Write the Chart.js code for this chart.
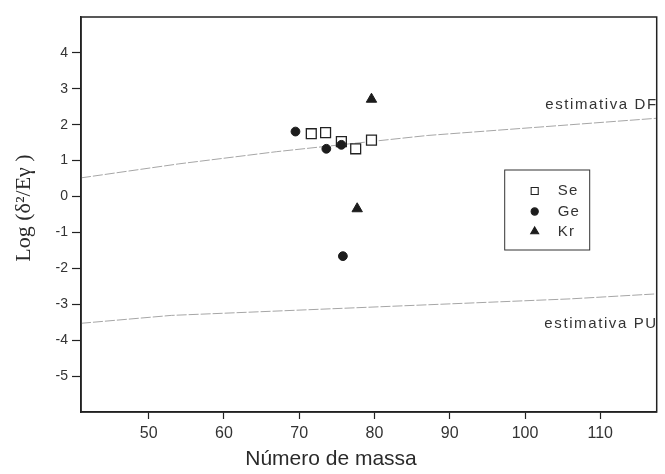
<!DOCTYPE html>
<html>
<head>
<meta charset="utf-8">
<script src="https://cdn.jsdelivr.net/npm/chart.js@4"></script>
<style>
  html, body { margin: 0; padding: 0; background: #fff; }
</style>
</head>
<body>
<canvas id="chart" width="665" height="474"></canvas>
<script>
// Values (mass number, log value)
const seMass = [71.6, 73.5, 75.6, 77.5, 79.6];
const seLog = [1.75, 1.78, 1.53, 1.33, 1.57];
const geMass = [69.5, 73.6, 75.6, 75.8];
const geLog = [1.81, 1.33, 1.44, -1.66];
const krMass = [77.7, 79.6];
const krLog = [-0.34, 2.71];

// Points
const dfMass = [41, 54, 67, 87, 117.5];
const dfLog = [0.52, 0.91, 1.25, 1.70, 2.18];
const puMass = [41, 53, 106, 117.5];
const puLog = [-3.53, -3.31, -2.85, -2.71];

const xTicks = [50, 60, 70, 80, 90, 100, 110];
const yTicks = [-5, -4, -3, -2, -1, 0, 1, 2, 3, 4];

const SANS = '"Liberation Sans", Arial, Helvetica, sans-serif';
const SERIF = '"Liberation Serif", "Times New Roman", serif';

function pts(xs, ys) {
  return xs.map((x, i) => ({ x: x, y: ys[i] }));
}

// Frame, line labels, inset legend and axis titles
const decor = {
  id: "decor",
  afterDraw(chart) {
    const ctx = chart.ctx;
    const a = chart.chartArea;
    const y = chart.scales.y;
    ctx.save();

    // box around the plot
    ctx.strokeStyle = "#222";
    ctx.lineWidth = 1.5;
    ctx.strokeRect(a.left, a.top, a.right - a.left, a.bottom - a.top);

    // labels of the estimate lines
    ctx.fillStyle = "#333";
    ctx.font = "15px " + SANS;
    ctx.letterSpacing = "1.6px";
    ctx.textAlign = "right";
    ctx.textBaseline = "middle";
    ctx.fillText("estimativa DF", a.right + 1, y.getPixelForValue(2.54));
    ctx.fillText("estimativa PU", a.right + 1, y.getPixelForValue(-3.54));

    // legend box
    const bx = a.right - 152;
    const by = a.top + 153;
    ctx.strokeStyle = "#333";
    ctx.lineWidth = 1;
    ctx.strokeRect(bx, by, 85, 80);
    const rows = [21, 41.5, 61.5];
    const sizes = [5, 3.6, 4.6];
    ctx.font = "15px " + SANS;
    ctx.letterSpacing = "1.2px";
    ctx.textAlign = "left";
    chart.data.datasets.filter((d) => d.inLegend).forEach((d, i) => {
      ctx.fillStyle = d.backgroundColor;
      ctx.strokeStyle = d.borderColor;
      ctx.lineWidth = 1.1;
      Chart.helpers.drawPoint(ctx, {
        pointStyle: d.pointStyle,
        radius: sizes[i],
        rotation: 0,
        borderWidth: 1.1,
      }, bx + 30, by + rows[i]);
      ctx.fillStyle = "#333";
      ctx.fillText(d.label, bx + 53, by + rows[i]);
    });

    // x title (sits left of centre in the figure)
    ctx.letterSpacing = "0px";
    ctx.fillStyle = "#2a2a2a";
    ctx.font = "21px " + SANS;
    ctx.textAlign = "center";
    ctx.fillText("Número de massa", a.left + 250, 459);

    // y title
    ctx.translate(24, 208);
    ctx.rotate(-Math.PI / 2);
    ctx.font = "22px " + SERIF;
    ctx.fillText("Log (δ²/Eγ )", 0, 0);
    ctx.restore();
  },
};

new Chart(document.getElementById("chart"), {
  type: "scatter",
  data: {
    datasets: [
      {
        label: "Se",
        inLegend: true,
        data: pts(seMass, seLog),
        pointStyle: "rect",
        pointRadius: 7,
        backgroundColor: "#fff",
        borderColor: "#222",
        borderWidth: 1.3,
        order: 2,
      },
      {
        label: "Ge",
        inLegend: true,
        data: pts(geMass, geLog),
        pointStyle: "circle",
        pointRadius: 4.4,
        backgroundColor: "#1c1c1c",
        borderColor: "#1c1c1c",
        borderWidth: 1,
        order: 1,
      },
      {
        label: "Kr",
        inLegend: true,
        data: pts(krMass, krLog),
        pointStyle: "triangle",
        pointRadius: 6,
        backgroundColor: "#1c1c1c",
        borderColor: "#1c1c1c",
        borderWidth: 1,
        order: 1,
      },
      {
        label: "estimativa DF",
        type: "line",
        data: pts(dfMass, dfLog),
        showLine: true,
        pointRadius: 0,
        borderColor: "#a6a6a6",
        borderWidth: 1,
        borderDash: [10, 2],
        fill: false,
        order: 3,
      },
      {
        label: "estimativa PU",
        type: "line",
        data: pts(puMass, puLog),
        showLine: true,
        pointRadius: 0,
        borderColor: "#a6a6a6",
        borderWidth: 1,
        borderDash: [10, 2],
        fill: false,
        order: 3,
      },
    ],
  },
  options: {
    responsive: false,
    animation: false,
    devicePixelRatio: 1,
    layout: { padding: { top: 17, right: 2, left: 0, bottom: 0 } },
    plugins: {
      legend: { display: false },
      tooltip: { enabled: false },
    },
    scales: {
      x: {
        type: "linear",
        min: 41,
        max: 117.5,
        afterBuildTicks: (s) => {
          s.ticks = xTicks.map((v) => ({ value: v }));
        },
        afterFit: (s) => {
          s.height = 62;
          s.paddingLeft = 0;
          s.paddingRight = 0;
        },
        grid: {
          drawOnChartArea: false,
          tickLength: 7,
          tickColor: "#222",
          tickWidth: 1.2,
        },
        border: { color: "#222", width: 1.5 },
        ticks: {
          font: { family: SANS, size: 16 },
          color: "#333",
          padding: 5,
          maxRotation: 0,
          autoSkip: false,
        },
      },
      y: {
        type: "linear",
        min: -6,
        max: 5,
        afterBuildTicks: (s) => {
          s.ticks = yTicks.map((v) => ({ value: v }));
        },
        afterFit: (s) => {
          s.width = 81;
          s.paddingTop = 0;
          s.paddingBottom = 0;
        },
        grid: {
          drawOnChartArea: false,
          tickLength: 9,
          tickColor: "#222",
          tickWidth: 1.2,
        },
        border: { color: "#222", width: 1.5 },
        ticks: {
          font: { family: SANS, size: 14 },
          color: "#333",
          padding: 4,
          autoSkip: false,
        },
      },
    },
  },
  plugins: [decor],
});
</script>
</body>
</html>
